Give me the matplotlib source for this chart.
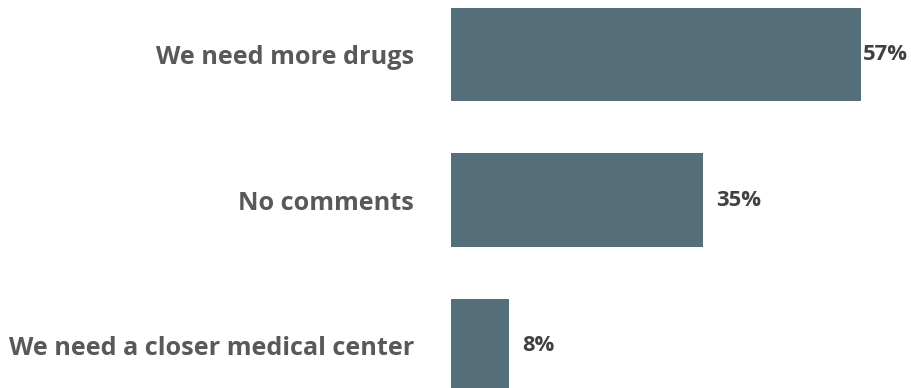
import matplotlib.pyplot as plt

categories = ["We need more drugs", "No comments", "We need a closer medical center"]
values = [57, 35, 8]
value_labels = ["57%", "35%", "8%"]

BAR_COLOR = "#546e7a"
LABEL_COLOR = "#595959"
VALUE_COLOR = "#404040"

plt.rcParams["font.family"] = ["Open Sans", "DejaVu Sans"]

fig = plt.figure(figsize=(9.11, 3.88), dpi=100)
ax = fig.add_axes([451 / 911, 0, 460 / 911, 1])

y = range(len(categories))
ax.barh(y, values, height=0.64, color=BAR_COLOR)

ax.set_xlim(0, 460 / 7.19)
ax.set_ylim(2.292, -0.375)

ax.set_yticks(list(y))
ax.set_yticklabels(categories, fontsize=18.2, fontweight="bold", color=LABEL_COLOR)
ax.tick_params(axis="y", length=0, pad=26.5)
ax.set_xticks([])
for s in ax.spines.values():
    s.set_visible(False)

offsets = [1.5, 10, 10]
for i, (v, lab) in enumerate(zip(values, value_labels)):
    ax.annotate(lab, (v, i), xytext=(offsets[i], 0), textcoords="offset points",
                va="center", ha="left", fontsize=15.8, fontweight="bold", color=VALUE_COLOR,
                annotation_clip=False)

fig.savefig("out.png", dpi=100)
